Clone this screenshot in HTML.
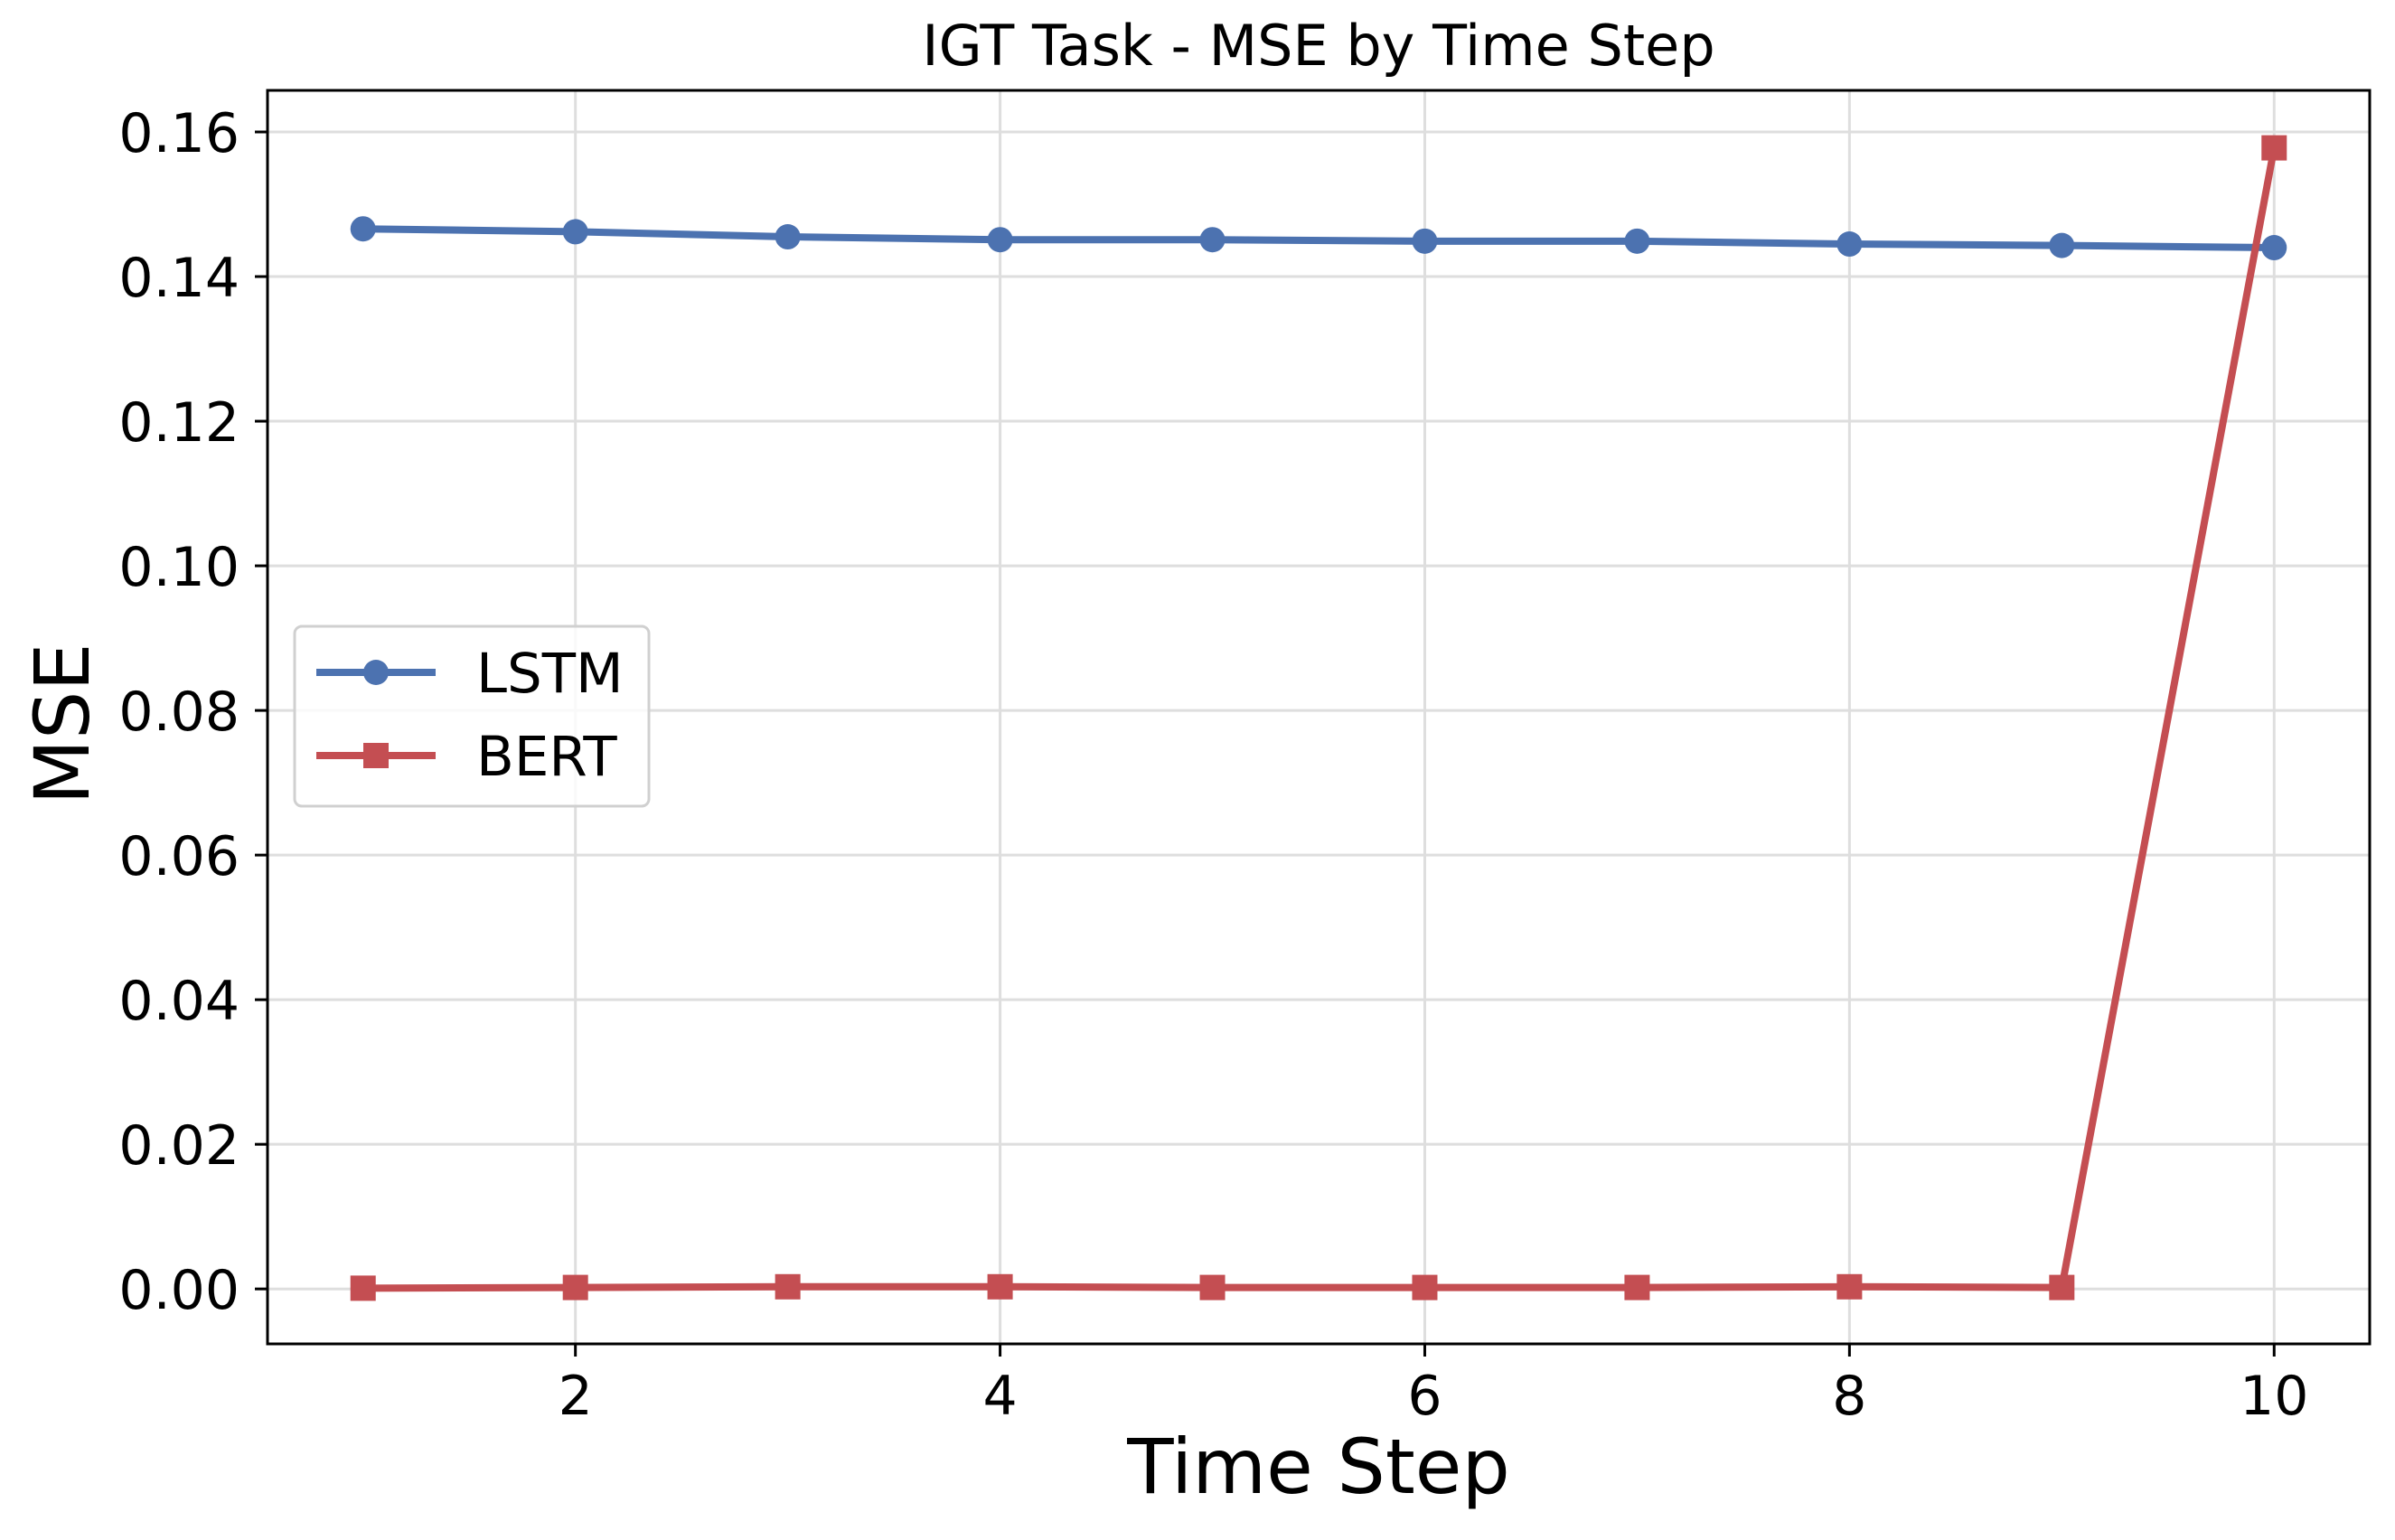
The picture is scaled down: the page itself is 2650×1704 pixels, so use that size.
<!DOCTYPE html>
<html><head><meta charset="utf-8"><style>
html,body{margin:0;padding:0;background:#fff;}
svg{display:block;font-family:"DejaVu Sans","Liberation Sans",sans-serif;}
</style></head><body>
<svg id="chart" width="2650" height="1704" viewBox="0 0 2650 1704" xmlns="http://www.w3.org/2000/svg">
<rect width="2650" height="1704" fill="#fff"/>
<g id="grid"></g>
<g id="series"></g>
<rect x="296" y="100" width="2326" height="1387" fill="none" stroke="#000" stroke-width="3"/>
<g id="ticks"></g>
<text x="1459" y="72" font-size="62" text-anchor="middle">IGT Task - MSE by Time Step</text>
<text x="1459" y="1652" font-size="84" text-anchor="middle">Time Step</text>
<text x="0" y="0" font-size="84" text-anchor="middle" transform="translate(98,801) rotate(-90)">MSE</text>
<g>
<rect x="326" y="693" width="392" height="199" rx="8" fill="#fff" fill-opacity="0.8" stroke="#d0d0d0" stroke-width="3"/>
<g>
<line x1="350" y1="744" x2="482" y2="744" stroke="#4C72B0" stroke-width="8"/>
<circle cx="416" cy="744" r="14" fill="#4C72B0"/>
<text x="527" y="766" font-size="61">LSTM</text>
</g>
<g>
<line x1="350" y1="836" x2="482" y2="836" stroke="#C44E52" stroke-width="8"/>
<rect x="402" y="822" width="28" height="28" fill="#C44E52"/>
<text x="527" y="858" font-size="61">BERT</text>
</g>
</g>
</svg>
<script>
const steps = [1,2,3,4,5,6,7,8,9,10];
const lstmValues = [0.1466,0.1462,0.1455,0.1451,0.1451,0.1449,0.1449,0.1445,0.1443,0.1440];
const bertValues = [0.0001,0.0002,0.0003,0.0003,0.0002,0.0002,0.0002,0.0003,0.0002,0.1578];
const xTicks = [2,4,6,8,10];
const yTicks = [0,0.02,0.04,0.06,0.08,0.10,0.12,0.14,0.16];
const yTickLabels = ["0.00","0.02","0.04","0.06","0.08","0.10","0.12","0.14","0.16"];

const L=296,R=2622,T=100,B=1487;
const XMIN=0.55,XMAX=10.45,YMIN=-0.0076,YMAX=0.16575;
function xs(v){return L+(v-XMIN)/(XMAX-XMIN)*(R-L);}
function ys(v){return B-(v-YMIN)/(YMAX-YMIN)*(B-T);}
const NS="http://www.w3.org/2000/svg";
function mk(tag,attrs,parent){const e=document.createElementNS(NS,tag);for(const k in attrs)e.setAttribute(k,attrs[k]);parent.appendChild(e);return e;}
const grid=document.getElementById('grid'),ticks=document.getElementById('ticks'),series=document.getElementById('series');
xTicks.forEach(v=>{
  const g=mk('line',{x1:xs(v),x2:xs(v),y1:T,y2:B,stroke:'#dedede','stroke-width':3},grid);
  
  
  const t=mk('line',{x1:xs(v),x2:xs(v),y1:B,y2:B+14,stroke:'#000','stroke-width':3},ticks);
  
  
  const l=mk('text',{x:xs(v),y:1565,'font-size':60,'text-anchor':'middle'},ticks);
  l.textContent=v;
  
  
});
yTicks.forEach((v,i)=>{
  const g=mk('line',{x1:L,x2:R,y1:ys(v),y2:ys(v),stroke:'#dedede','stroke-width':3},grid);
  
  
  const t=mk('line',{x1:L-14,x2:L,y1:ys(v),y2:ys(v),stroke:'#000','stroke-width':3},ticks);
  
  
  const l=mk('text',{x:265,y:ys(v)+22,'font-size':60,'text-anchor':'end'},ticks);
  l.textContent=yTickLabels[i];
  
  
});
function drawSeries(vals,color,marker,name){
  const pts=steps.map((s,i)=>xs(s)+','+ys(vals[i])).join(' ');
  const pl=mk('polyline',{points:pts,fill:'none',stroke:color,'stroke-width':8,'stroke-linejoin':'round'},series);
  
  
  steps.forEach((s,i)=>{
    let m;
    if(marker==='circle') m=mk('circle',{cx:xs(s),cy:ys(vals[i]),r:14,fill:color},series);
    else m=mk('rect',{x:xs(s)-14,y:ys(vals[i])-14,width:28,height:28,fill:color},series);
    
    
  });
}
drawSeries(lstmValues,'#4C72B0','circle','lstm');
drawSeries(bertValues,'#C44E52','square','bert');
</script>
</body></html>
